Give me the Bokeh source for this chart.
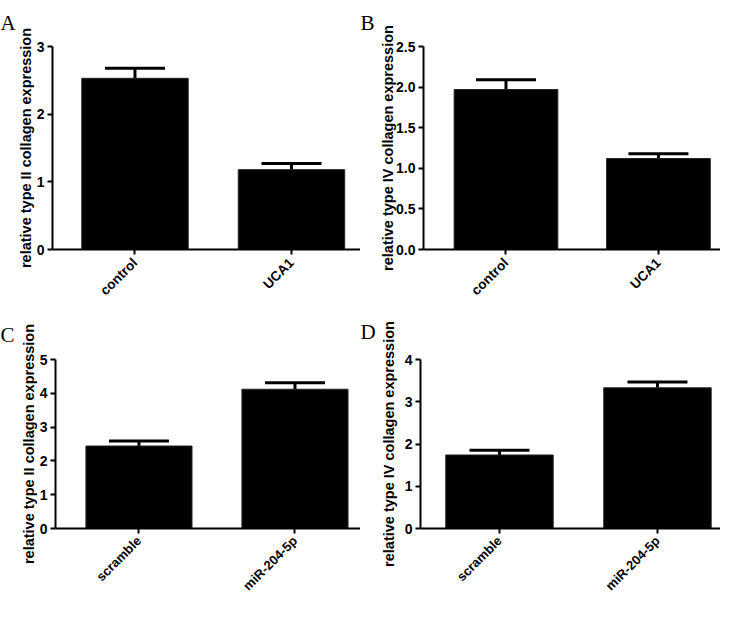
import math
from bokeh.plotting import figure
from bokeh.models import ColumnDataSource, Whisker, TeeHead, Title, FixedTicker, Range1d
from bokeh.layouts import column, row
from bokeh.embed import file_html
from bokeh.resources import INLINE

# ---- data ----
cats_top = ["control", "UCA1"]
cats_bottom = ["scramble", "miR-204-5p"]

typeII_top = [2.53, 1.18]
typeII_top_err = [0.15, 0.09]
typeIV_top = [1.97, 1.12]
typeIV_top_err = [0.12, 0.06]

typeII_bottom = [2.44, 4.12]
typeII_bottom_err = [0.15, 0.19]
typeIV_bottom = [1.74, 3.33]
typeIV_bottom_err = [0.11, 0.14]

ymax_A, ticks_A = 3, [0, 1, 2, 3]
ymax_B, ticks_B = 2.5, [0.0, 0.5, 1.0, 1.5, 2.0, 2.5]
ymax_C, ticks_C = 5, [0, 1, 2, 3, 4, 5]
ymax_D, ticks_D = 4, [0, 1, 2, 3, 4]

label_II = "relative type II collagen expression"
label_IV = "relative type IV collagen expression"

FONT = "Liberation Sans"


def panel(letter, cats, vals, errs, ymax, ticks, ylabel, fmt_decimal,
          width, height, border, xlim, standoff, xfont, xstandoff, letter_standoff):
    left, top, bottom = border
    xs = [i + 0.5 for i in range(len(cats))]
    p = figure(width=width, height=height, x_range=Range1d(*xlim),
               y_range=Range1d(0, ymax), output_backend="svg", toolbar_location=None,
               min_border_left=left, min_border_top=top, min_border_bottom=bottom,
               min_border_right=0)
    upper = [v + e for v, e in zip(vals, errs)]
    src = ColumnDataSource(dict(x=xs, top=vals, upper=upper))
    p.vbar(x="x", top="top", width=0.68, source=src, fill_color="black",
           line_color="#222222", line_width=1)
    w = Whisker(base="x", upper="upper", lower="top", source=src,
                line_color="black", line_width=3,
                upper_head=TeeHead(size=60, line_width=3, line_color="black"),
                lower_head=None)
    p.add_layout(w)

    p.xgrid.visible = False
    p.ygrid.visible = False
    p.outline_line_color = None
    p.background_fill_color = "white"

    p.yaxis.ticker = FixedTicker(ticks=ticks)
    if fmt_decimal:
        p.yaxis.major_label_overrides = {t: f"{t:.1f}" for t in ticks}
    p.xaxis.ticker = FixedTicker(ticks=xs)
    p.xaxis.major_label_overrides = {x: c for x, c in zip(xs, cats)}
    for ax in (p.xaxis[0], p.yaxis[0]):
        ax.axis_line_width = 2
        ax.axis_line_color = "black"
        ax.major_tick_line_width = 2
        ax.major_tick_line_color = "black"
        ax.major_tick_in = 0
        ax.major_tick_out = 5
        ax.minor_tick_line_color = None
        ax.major_label_text_font = FONT
        ax.major_label_text_font_style = "bold"
        ax.major_label_text_color = "black"
    p.yaxis.major_label_text_font_size = "14px"
    p.yaxis.major_label_standoff = 3
    p.yaxis.axis_label = ylabel
    p.yaxis.axis_label_text_font = FONT
    p.yaxis.axis_label_text_font_style = "bold"
    p.yaxis.axis_label_text_font_size = "14.5px"
    p.yaxis.axis_label_text_color = "black"
    p.yaxis.axis_label_standoff = standoff

    p.xaxis.major_label_orientation = math.pi / 4
    p.xaxis.major_label_text_font_size = xfont
    p.xaxis.major_label_standoff = xstandoff
    p.xaxis.axis_label_standoff = 0

    p.add_layout(Title(text=letter, align="left", offset=-left,
                       vertical_align="top",
                       text_font="Liberation Serif", text_font_size="21px",
                       text_font_style="normal", text_color="black",
                       text_line_height=1.0,
                       standoff=letter_standoff), "above")
    return p


pA = panel("A", cats_top, typeII_top, typeII_top_err, ymax_A, ticks_A, label_II, False,
           360, 306, (52, 42, 56), (-0.027, 1.941), 0, "13.5px", 6, 19)
pB = panel("B", cats_top, typeIV_top, typeIV_top_err, ymax_B, ticks_B, label_IV, True,
           360, 306, (63, 43, 56), (-0.041, 1.907), -3, "13.5px", 6, 20)
pC = panel("C", cats_bottom, typeII_bottom, typeII_bottom_err, ymax_C, ticks_C, label_II, False,
           360, 295, (55, 44, 57), (-0.035, 1.92), 0, "13px", 5, 22)
pD = panel("D", cats_bottom, typeIV_bottom, typeIV_bottom_err, ymax_D, ticks_D, label_IV, False,
           360, 295, (60, 49, 56), (0.0, 1.899), 5, "13px", 5, 27)

layout = column(row(pA, pB), row(pC, pD))
open("out.html", "w").write(file_html(layout, INLINE))
